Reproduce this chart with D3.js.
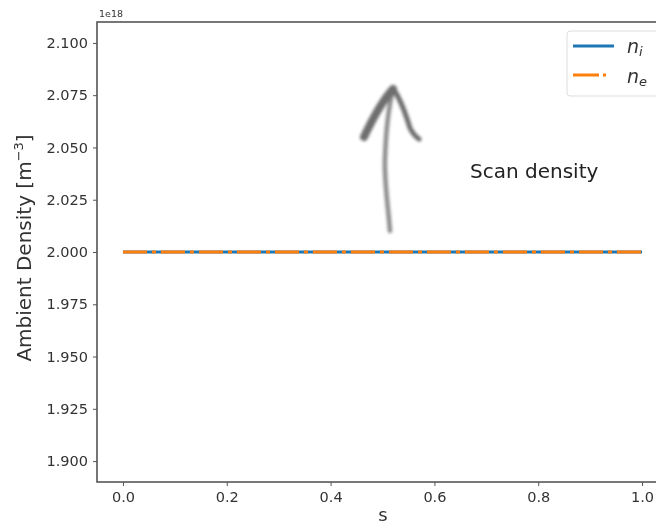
<!DOCTYPE html>
<html><head><meta charset="utf-8">
<script src="https://cdn.jsdelivr.net/npm/d3@7"></script>
<style>body{margin:0;background:#fff}svg{display:block}text{font-family:"DejaVu Sans",sans-serif}</style>
</head><body><svg id="c" width="656" height="528"></svg>
<script>
const sValues = [0.0, 0.25, 0.5, 0.75, 1.0];
const niValues = [2.0, 2.0, 2.0, 2.0, 2.0]; // x1e18
const neValues = [2.0, 2.0, 2.0, 2.0, 2.0]; // x1e18
const xTicks = [0.0, 0.2, 0.4, 0.6, 0.8, 1.0];
const yTicks = [1.900, 1.925, 1.950, 1.975, 2.000, 2.025, 2.050, 2.075, 2.100];
const seriesNames = ["i", "e"];
const colors = ["#1f77b4", "#ff7f0e"];

const svg = d3.select("#c");
const L = 97, R = 668, T = 22, B = 482;
const x = d3.scaleLinear().domain([-0.05, 1.05]).range([L, R]);
const y = d3.scaleLinear().domain([1.89, 2.11]).range([B, T]);
const ink = "#333";

const defs = svg.append("defs");
defs.append("filter").attr("id","soft").append("feGaussianBlur").attr("stdDeviation",0.45);
defs.append("filter").attr("id","blur").attr("x","-50%").attr("y","-50%").attr("width","200%").attr("height","200%")
  .append("feGaussianBlur").attr("stdDeviation",1.6);

const g = svg.append("g").attr("filter","url(#soft)");

// axes
const xa = g.append("g").attr("transform",`translate(0,${B})`)
  .call(d3.axisBottom(x).tickValues(xTicks).tickFormat(d3.format(".1f")).tickSize(4).tickPadding(6));
const ya = g.append("g").attr("transform",`translate(${L},0)`)
  .call(d3.axisLeft(y).tickValues(yTicks).tickFormat(d3.format(".3f")).tickSize(4).tickPadding(5));
[xa, ya].forEach(a => {
  a.select(".domain").remove();
  a.selectAll("line").attr("stroke","#555").attr("stroke-width",1);
  a.selectAll("text").attr("fill",ink).attr("font-size",14.5);
});
// spines
g.append("rect").attr("x",L).attr("y",T).attr("width",R-L).attr("height",B-T)
  .attr("fill","none").attr("stroke","#555").attr("stroke-width",1.6);

g.append("text").attr("x",L+2).attr("y",T-5).attr("font-size",9.5).attr("fill",ink).text("1e18");

// lines
const line = vals => d3.line().x((d,i)=>x(sValues[i])).y(d=>y(d))(vals);
g.append("path").attr("d",line(niValues)).attr("fill","none").attr("stroke",colors[0]).attr("stroke-width",3);
g.append("path").attr("d",line(neValues)).attr("fill","none").attr("stroke",colors[1]).attr("stroke-width",3)
  .attr("stroke-dasharray","24,5,4,5");

// arrow (hand-drawn)
const arrow = svg.append("g").attr("filter","url(#blur)").attr("fill","none").attr("stroke","#555")
  .attr("stroke-linecap","round").attr("stroke-linejoin","round").attr("opacity",0.85);
arrow.append("path").attr("d","M390,231 C388,205 384,180 385,158 C386,130 389,105 393,90").attr("stroke-width",4.5).attr("opacity",0.8);
arrow.append("path").attr("d","M364,137 C372,120 383,100 393,89").attr("stroke-width",8);
arrow.append("path").attr("d","M394,90 C401,100 406,115 410,128 C413,134 416,137 419,139").attr("stroke-width",5);

g.append("text").attr("x",470).attr("y",178).attr("font-size",20).attr("fill","#222").text("Scan density");

// legend
const lg = g.append("g");
lg.append("rect").attr("x",567).attr("y",31).attr("width",100).attr("height",65).attr("rx",3)
  .attr("fill","#fff").attr("stroke","#ddd");
lg.append("line").attr("x1",573).attr("x2",614).attr("y1",46).attr("y2",46).attr("stroke",colors[0]).attr("stroke-width",3);
lg.append("line").attr("x1",573).attr("x2",614).attr("y1",75).attr("y2",75).attr("stroke",colors[1]).attr("stroke-width",3)
  .attr("stroke-dasharray","26,4,3,20");
seriesNames.forEach((n,i)=>{
  const t = lg.append("text").attr("x",627).attr("y",[53,83][i]).attr("font-size",19).attr("fill",ink).attr("font-style","italic");
  t.append("tspan").text("n");
  t.append("tspan").attr("font-size",13).attr("dy",3).text(n);
});

// axis labels
g.append("text").attr("x",383).attr("y",521).attr("text-anchor","middle").attr("font-size",18).attr("fill",ink).text("s");
const yl = g.append("text").attr("transform","translate(31,248) rotate(-90)").attr("text-anchor","middle").attr("font-size",20).attr("fill",ink);
yl.append("tspan").text("Ambient Density [m");
yl.append("tspan").attr("font-size",13).attr("dy",-8).text("\u22123");
yl.append("tspan").attr("dy",8).text("]");
</script></body></html>
